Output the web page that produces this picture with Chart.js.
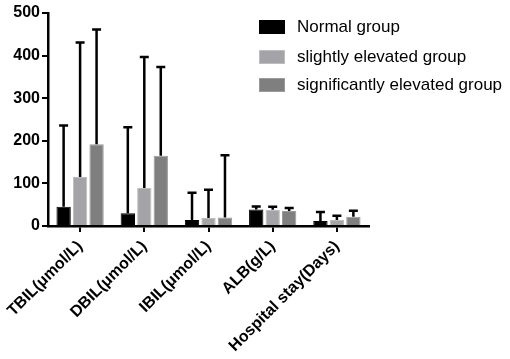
<!DOCTYPE html>
<html>
<head>
<meta charset="utf-8">
<script src="https://cdn.jsdelivr.net/npm/chart.js@4"></script>
<style>
  body { margin: 0; background: #fff; }
  #wrap { position: relative; width: 510px; height: 359px; }
  #legend { position: absolute; left: 259px; top: 0; font-family: "Liberation Sans", Arial, sans-serif; font-size: 17px; color: #000; }
  .item { position: absolute; left: 0; white-space: nowrap; height: 18px; line-height: 18px; }
  .box { position: absolute; left: 0; top: 2px; width: 26px; height: 14px; box-sizing: border-box; }
  .lbl { position: absolute; left: 38px; top: 0; }
</style>
</head>
<body>
<div id="wrap">
  <canvas id="chart" width="510" height="359"></canvas>
  <div id="legend"></div>
</div>
<script>
const categories = ['TBIL(μmol/L)', 'DBIL(μmol/L)', 'IBIL(μmol/L)', 'ALB(g/L)', 'Hospital stay(Days)'];
const groupNames = ['Normal group', 'slightly elevated group', 'significantly elevated group'];

// means
const normalMean = [45, 30, 14, 39, 12];
const slightMean = [115, 89, 19, 38, 14];
const significantMean = [192, 165, 20, 35, 22];

// standard deviations (upper whisker only)
const normalSD = [191, 202, 64, 7, 21];
const slightSD = [316, 308, 66, 7, 10];
const significantSD = [269, 208, 146, 7, 14];

const yTicks = [0, 100, 200, 300, 400, 500];

const colors = ['#000000', '#a4a4a8', '#7f7f7f'];
const edges = ['#000000', '#bdbdbf', '#9a9a9a'];

const means = [normalMean, slightMean, significantMean];
const sds = [normalSD, slightSD, significantSD];

const errorBars = {
    id: 'errorBars',
    afterDatasetsDraw(chart) {
        const ctx = chart.ctx;
        const yScale = chart.scales.y;
        ctx.save();
        ctx.strokeStyle = '#000';
        ctx.lineWidth = 2.5;
        chart.data.datasets.forEach((ds, i) => {
            const meta = chart.getDatasetMeta(i);
            meta.data.forEach((bar, j) => {
                const top = yScale.getPixelForValue(ds.data[j] + ds.sd[j]);
                ctx.beginPath();
                ctx.moveTo(bar.x, bar.y);
                ctx.lineTo(bar.x, top);
                ctx.moveTo(bar.x - 4.5, top);
                ctx.lineTo(bar.x + 4.5, top);
                ctx.stroke();
            });
        });
        ctx.restore();
    }
};

new Chart(document.querySelector('#chart').getContext('2d'), {
    type: 'bar',
    data: {
        labels: categories,
        datasets: groupNames.map((name, i) => ({
            label: name,
            data: means[i],
            sd: sds[i],
            backgroundColor: colors[i],
            borderColor: edges[i],
            borderWidth: 1,
            categoryPercentage: 0.77,
            barPercentage: 0.87
        }))
    },
    options: {
        responsive: false,
        animation: false,
        layout: { padding: { top: 13, right: 141, left: 0, bottom: 0 } },
        plugins: { legend: { display: false }, tooltip: { enabled: false } },
        scales: {
            x: {
                grid: { offset: false, drawOnChartArea: false, tickLength: 6, color: '#000', lineWidth: 2 },
                border: { display: true, color: '#000', width: 2.5 },
                ticks: {
                    color: '#000',
                    minRotation: 45,
                    maxRotation: 45,
                    padding: 5,
                    font: { family: 'Liberation Sans', size: 16, weight: 'bold' }
                },
                afterFit: s => { s.height = 133; s.paddingLeft = 0; s.paddingRight = 0; }
            },
            y: {
                min: 0,
                max: 500,
                afterBuildTicks: s => { s.ticks = yTicks.map(v => ({ value: v })); },
                grid: { drawOnChartArea: false, tickLength: 6, color: '#000', lineWidth: 2 },
                border: { display: true, color: '#000', width: 2.5 },
                ticks: {
                    color: '#000',
                    padding: 2,
                    font: { family: 'Liberation Sans', size: 16, weight: 'bold' }
                },
                afterFit: s => { s.width = 48; }
            }
        }
    },
    plugins: [errorBars]
});

const legend = document.querySelector('#legend');
const rowTops = [18, 48, 76];
groupNames.forEach((name, i) => {
    const item = document.createElement('div');
    item.className = 'item';
    item.style.top = rowTops[i] + 'px';
    item.innerHTML = '<span class="box" style="background:' + colors[i] + ';border:1px solid ' + edges[i] + '"></span><span class="lbl">' + name + '</span>';
    legend.appendChild(item);
});
</script>
</body>
</html>
